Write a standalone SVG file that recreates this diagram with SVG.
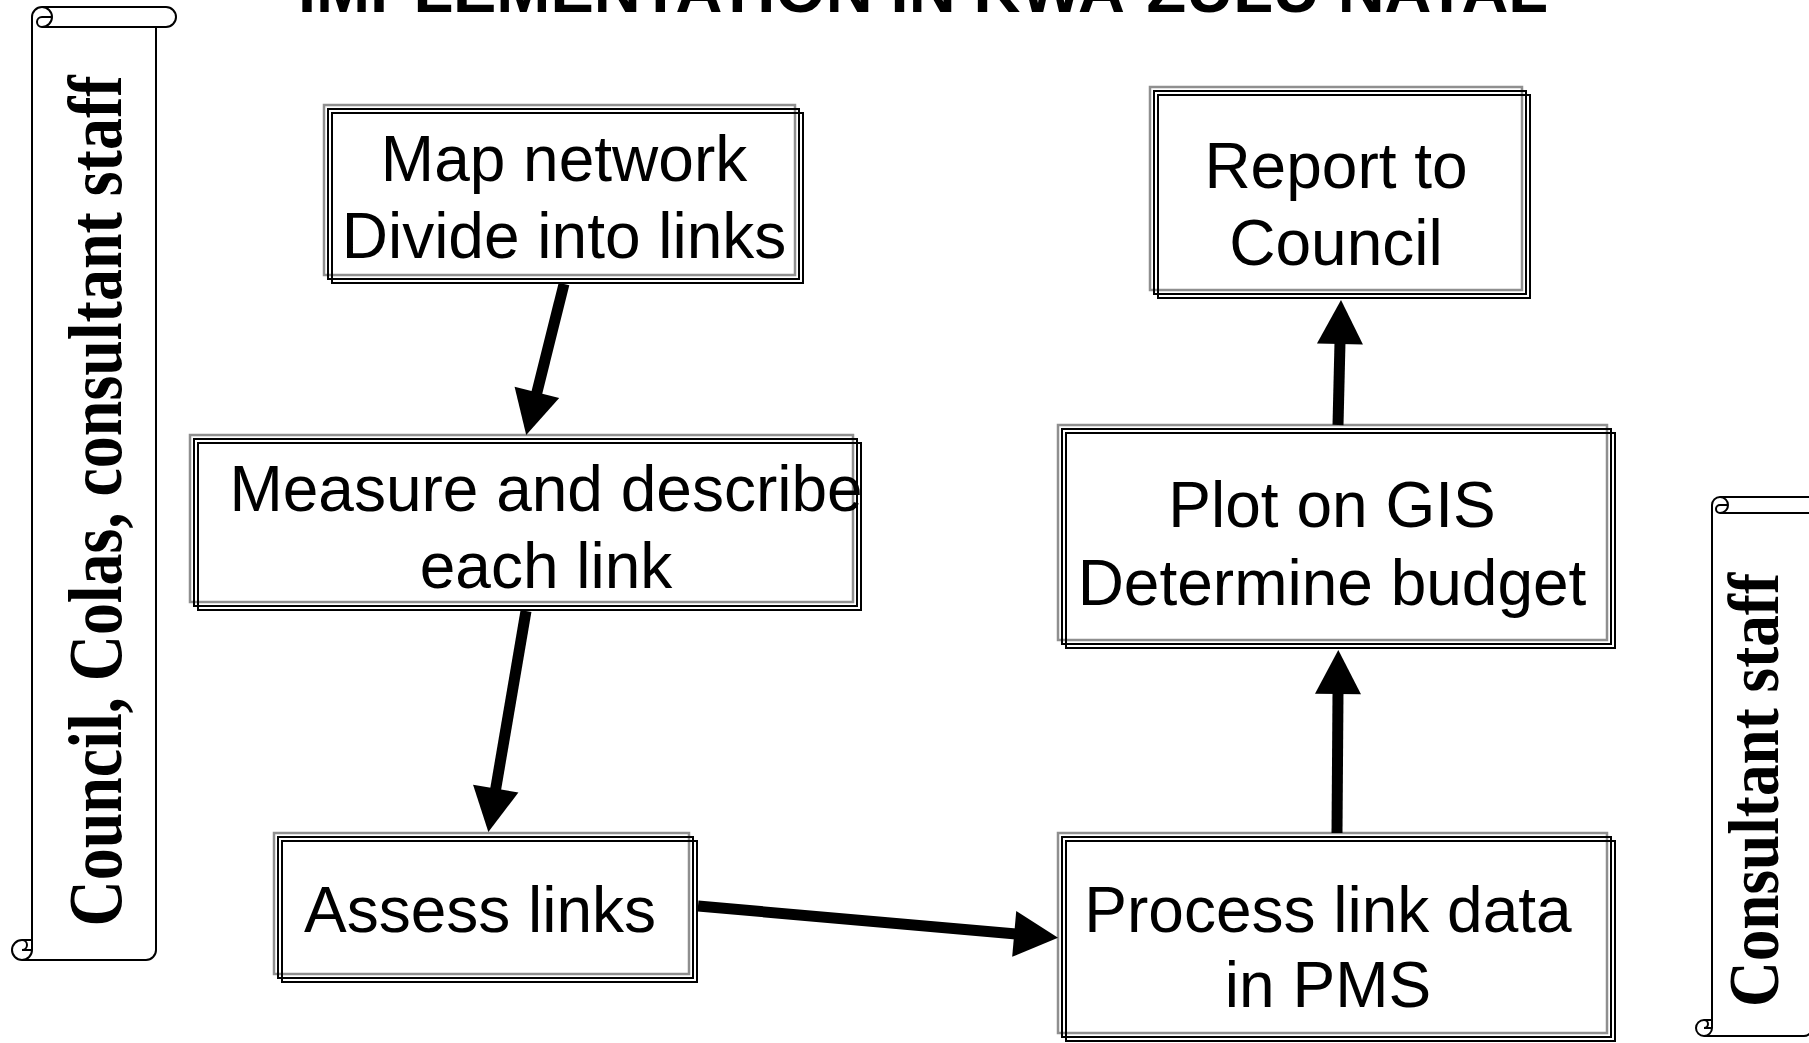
<svg xmlns="http://www.w3.org/2000/svg" width="1809" height="1043" viewBox="0 0 1809 1043">
<style>
.b1{fill:#fff;stroke:#8f8f8f;stroke-width:2.5}
.b2{fill:none;stroke:#000;stroke-width:2}
.b3{fill:none;stroke:#000;stroke-width:2}
.t{font-family:"Liberation Sans",Arial,sans-serif;font-size:64px;fill:#000;text-anchor:middle}
.title{font-family:"Liberation Sans",Arial,sans-serif;font-size:64px;font-weight:bold;fill:#000;text-anchor:middle}
.st{font-family:"Liberation Serif","Times New Roman",serif;font-weight:bold;fill:#000;text-anchor:middle}
.sc{fill:#fff;stroke:#000;stroke-width:2;stroke-linejoin:round}
.scd{fill:none;stroke:#000;stroke-width:2}
.c{stroke:#000;stroke-width:11;fill:none}
</style>
<defs>
<marker id="ah" markerUnits="userSpaceOnUse" markerWidth="44" markerHeight="46" refX="2" refY="23" orient="auto" overflow="visible">
<path d="M0,0 L44,23 L0,46 Z" fill="#000"/>
</marker>
</defs>
<rect x="0" y="0" width="1809" height="1043" fill="#fff"/>
<text class="title" x="923" y="12" textLength="1250" lengthAdjust="spacingAndGlyphs">IMPLEMENTATION IN KWA-ZULU NATAL</text>

<g id="scroll-left">
<path class="sc" d="M32,940 L32,17 A10,10 0 0 1 42,7 L166,7 A10,10 0 0 1 166,27 L156,27 L156,950 A10,10 0 0 1 146,960 L22,960 A10,10 0 0 1 22,940 Z"/>
<path class="scd" d="M42,7 A10,10 0 0 1 42,27 A5,5 0 0 1 42,17 L52,17 M156,27 L42,27 M22,940 A5,5 0 0 1 22,950 L32,950 M22,960 A10,10 0 0 0 32,950 L32,940"/>
<text class="st" font-size="77" transform="translate(121,501) rotate(-90)" textLength="851" lengthAdjust="spacingAndGlyphs">Council, Colas, consultant staff</text>
</g>

<g id="scroll-right">
<path class="sc" d="M1712,1020 L1712,505 A8,8 0 0 1 1720,497 L1820,497 A8,8 0 0 1 1820,513 L1812,513 L1812,1028 A8,8 0 0 1 1804,1036 L1704,1036 A8,8 0 0 1 1704,1020 Z"/>
<path class="scd" d="M1720,497 A8,8 0 0 1 1720,513 A4,4 0 0 1 1720,505 L1728,505 M1812,513 L1720,513 M1704,1020 A4,4 0 0 1 1704,1028 L1712,1028 M1704,1036 A8,8 0 0 0 1712,1028 L1712,1020"/>
<text class="st" font-size="72" transform="translate(1778,790) rotate(-90)" textLength="434" lengthAdjust="spacingAndGlyphs">Consultant staff</text>
</g>

<g id="n-map">
<rect class="b1" x="324" y="105" width="471" height="170"/>
<rect class="b2" x="328" y="109" width="471" height="170"/>
<rect class="b3" x="332" y="113" width="471" height="170"/>
<text class="t" x="564" y="181">Map network</text>
<text class="t" x="564" y="258">Divide into links</text>
</g>

<g id="n-measure">
<rect class="b1" x="190" y="435" width="663" height="167"/>
<rect class="b2" x="194" y="439" width="663" height="167"/>
<rect class="b3" x="198" y="443" width="663" height="167"/>
<text class="t" x="546" y="511">Measure and describe</text>
<text class="t" x="546" y="588">each link</text>
</g>

<g id="n-assess">
<rect class="b1" x="274" y="833" width="415" height="141"/>
<rect class="b2" x="278" y="837" width="415" height="141"/>
<rect class="b3" x="282" y="841" width="415" height="141"/>
<text class="t" x="480" y="932">Assess links</text>
</g>

<g id="n-process">
<rect class="b1" x="1058" y="833" width="549" height="200"/>
<rect class="b2" x="1062" y="837" width="549" height="200"/>
<rect class="b3" x="1066" y="841" width="549" height="200"/>
<text class="t" x="1328" y="932">Process link data</text>
<text class="t" x="1328" y="1007">in PMS</text>
</g>

<g id="n-plot">
<rect class="b1" x="1058" y="425" width="549" height="215"/>
<rect class="b2" x="1062" y="429" width="549" height="215"/>
<rect class="b3" x="1066" y="433" width="549" height="215"/>
<text class="t" x="1332" y="527">Plot on GIS</text>
<text class="t" x="1332" y="605">Determine budget</text>
</g>

<g id="n-report">
<rect class="b1" x="1150" y="87" width="372" height="203"/>
<rect class="b2" x="1154" y="91" width="372" height="203"/>
<rect class="b3" x="1158" y="95" width="372" height="203"/>
<text class="t" x="1336" y="188">Report to</text>
<text class="t" x="1336" y="265">Council</text>
</g>

<g id="connectors">
<line class="c" x1="564" y1="284" x2="536.4" y2="394.3" marker-end="url(#ah)"/>
<line class="c" x1="526" y1="611" x2="495.4" y2="790.6" marker-end="url(#ah)"/>
<line class="c" x1="698" y1="906" x2="1016.2" y2="934.1" marker-end="url(#ah)"/>
<line class="c" x1="1337" y1="833" x2="1338" y2="692" marker-end="url(#ah)"/>
<line class="c" x1="1338" y1="425" x2="1340" y2="342" marker-end="url(#ah)"/>
</g>
</svg>
